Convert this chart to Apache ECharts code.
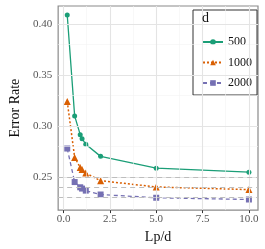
<!DOCTYPE html>
<html><head><meta charset="utf-8">
<script src="https://cdn.jsdelivr.net/npm/echarts@6/dist/echarts.min.js"></script>
<style>html,body{margin:0;padding:0;background:#fff}#c{width:265px;height:249px}</style>
</head><body><div id="c"></div>
<script>
const xValues = [0.2, 0.6, 0.9, 1.0, 1.2, 2.0, 5.0, 10.0];
const err500 = [0.409, 0.310, 0.2916, 0.2877, 0.2822, 0.2703, 0.2587, 0.2548];
const err1000 = [0.3242, 0.2693, 0.2594, 0.2574, 0.2539, 0.2464, 0.2403, 0.2377];
const err2000 = [0.2780, 0.2451, 0.2400, 0.2387, 0.2367, 0.2329, 0.2297, 0.2280];
const asymptotes = [0.2510, 0.2354, 0.2267];
const xTicks = [0, 2.5, 5, 7.5, 10];
const yTicks = [0.25, 0.30, 0.35, 0.40];
const xMinor = [1.25, 3.75, 6.25, 8.75];
const yMinor = [0.225, 0.275, 0.325, 0.375];
const seriesNames = ['500', '1000', '2000'];

const FONT = "'Liberation Serif', 'DejaVu Serif', serif";
const pairs = ys => xValues.map((x, i) => [x, ys[i]]);

const gridLines = [];
xMinor.forEach(v => gridLines.push({xAxis: v, lineStyle: {color: '#f3f3f3', width: 0.6, type: 'solid'}}));
yMinor.forEach(v => gridLines.push({yAxis: v, lineStyle: {color: '#f3f3f3', width: 0.6, type: 'solid'}}));
xTicks.forEach(v => gridLines.push({xAxis: v, lineStyle: {color: '#e4e4e4', width: 1.1, type: 'solid'}}));
yTicks.forEach(v => gridLines.push({yAxis: v, lineStyle: {color: '#e4e4e4', width: 1.1, type: 'solid'}}));

const chart = echarts.init(document.getElementById('c'), null, {renderer: 'canvas'});
chart.setOption({
  animation: false,
  backgroundColor: '#fff',
  textStyle: {fontFamily: FONT},
  grid: {left: 50, right: 7, top: 6, bottom: 37, show: true, borderColor: '#8a8a8a', borderWidth: 1.2, backgroundColor: 'transparent'},
  title: {text: 'd', left: 202, top: 11, padding: 0, textStyle: {fontFamily: FONT, fontSize: 14, fontWeight: 'normal', color: '#111'}},
  legend: {
    orient: 'vertical', left: 193, top: 10,
    data: seriesNames,
    backgroundColor: '#fff', borderColor: '#333', borderWidth: 1,
    padding: [26, 5, 6, 9], itemGap: 8.5, itemWidth: 20, itemHeight: 7,
    textStyle: {fontFamily: FONT, fontSize: 12, color: '#111'}
  },
  xAxis: {
    type: 'value', min: -0.29, max: 10.49,
    name: 'Lp/d', nameLocation: 'middle', nameGap: 19,
    nameTextStyle: {fontFamily: FONT, fontSize: 14, color: '#111'},
    axisLine: {show: false},
    axisTick: {show: true, length: 3, customValues: xTicks, lineStyle: {color: '#333', width: 1}},
    axisLabel: {customValues: xTicks, margin: 4, fontFamily: FONT, fontSize: 11, color: '#555', formatter: v => v.toFixed(1)},
    splitLine: {show: false}
  },
  yAxis: {
    type: 'value', min: 0.2176, max: 0.4178,
    name: 'Error Rate', nameLocation: 'middle', nameGap: 31,
    nameTextStyle: {fontFamily: FONT, fontSize: 14, color: '#111'},
    axisLine: {show: false},
    axisTick: {show: true, length: 3, customValues: yTicks, lineStyle: {color: '#333', width: 1}},
    axisLabel: {customValues: yTicks, margin: 6, fontFamily: FONT, fontSize: 11, color: '#555', formatter: v => v.toFixed(2)},
    splitLine: {show: false}
  },
  series: [
    {
      name: 'grid', type: 'line', data: [], z: 0, silent: true,
      markLine: {silent: true, symbol: 'none', label: {show: false}, animation: false, data: gridLines}
    },
    {
      name: 'asym', type: 'line', data: [], z: 1, silent: true,
      markLine: {silent: true, symbol: 'none', label: {show: false}, animation: false,
        lineStyle: {color: '#bdbdbd', width: 1.2, type: [5, 4]},
        data: asymptotes.map(v => ({yAxis: v}))}
    },
    {
      name: seriesNames[0], type: 'line', data: pairs(err500), z: 3,
      symbol: 'circle', symbolSize: 5, color: '#1B9E77',
      lineStyle: {width: 1.3, type: 'solid', color: '#1B9E77'},
      itemStyle: {color: '#1B9E77', borderWidth: 0}
    },
    {
      name: seriesNames[1], type: 'line', data: pairs(err1000), z: 3,
      symbol: 'triangle', symbolSize: 7, color: '#D95F02',
      lineStyle: {width: 1.5, type: [2, 2], color: '#D95F02'},
      itemStyle: {color: '#D95F02', borderWidth: 0}
    },
    {
      name: seriesNames[2], type: 'line', data: pairs(err2000), z: 3,
      symbol: 'rect', symbolSize: 6, color: '#7570B3',
      lineStyle: {width: 1.3, type: [4, 3], color: '#7570B3'},
      itemStyle: {color: '#7570B3', borderWidth: 0}
    }
  ]
});
</script></body></html>
